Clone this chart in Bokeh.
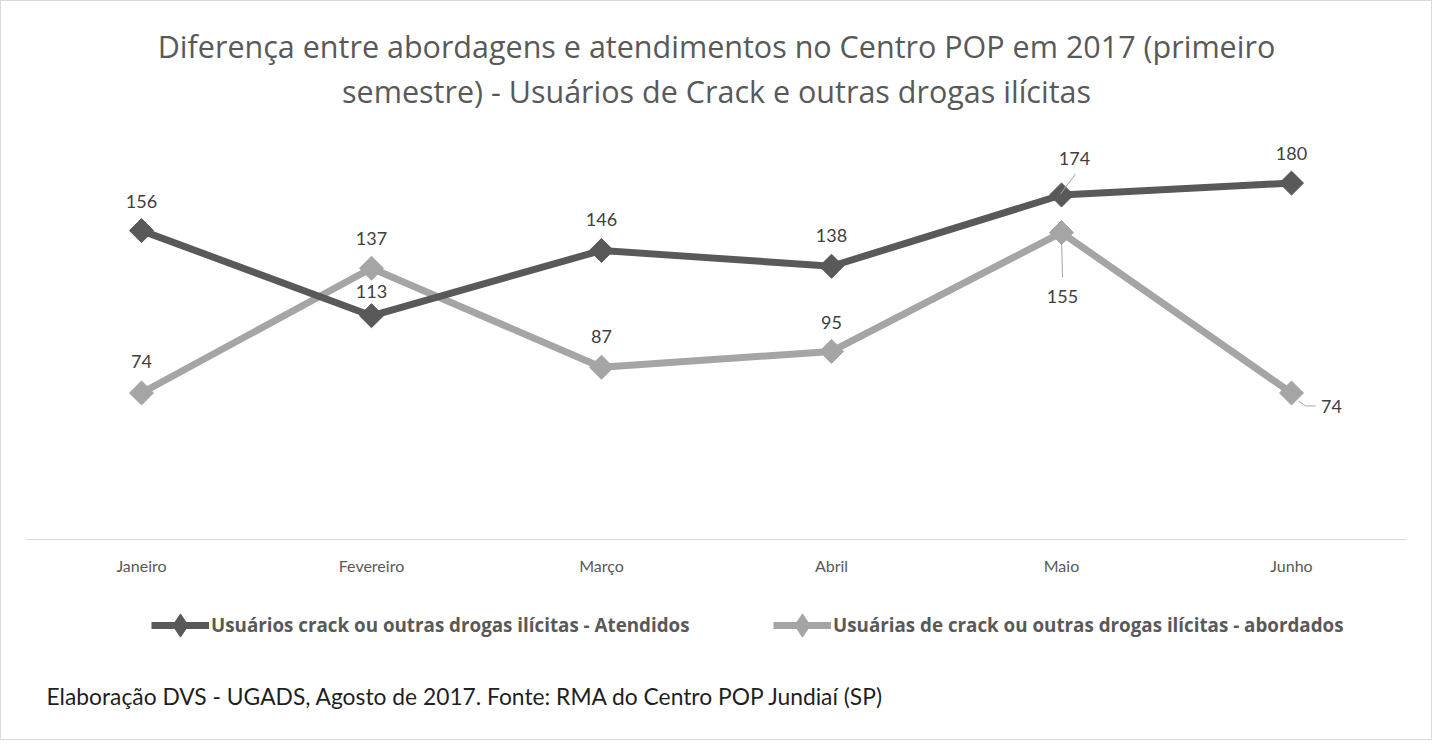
import numpy as np
from bokeh.plotting import figure
from bokeh.models import (ColumnDataSource, Legend, LegendItem, FixedTicker, Range1d, Label)
from bokeh.core.properties import value
from bokeh.embed import file_html
from bokeh.resources import INLINE

# ---- data ----
months = ["Janeiro", "Fevereiro", "Março", "Abril", "Maio", "Junho"]
atendidos = [156, 113, 146, 138, 174, 180]
abordados = [74, 137, 87, 95, 155, 74]
name_atendidos = "Usuários crack ou outras drogas ilícitas - Atendidos"
name_abordados = "Usuárias de crack ou outras drogas ilícitas - abordados"
title_lines = ["Diferença entre abordagens e atendimentos no Centro POP em 2017 (primeiro",
               "semestre) - Usuários de Crack e outras drogas ilícitas"]
footer = "Elaboração DVS - UGADS, Agosto de 2017. Fonte: RMA do Centro POP Jundiaí (SP)"

# ---- label placement (screen px offsets) ----
atd_dx = [0, 0, 0, 0, 13, 0]
atd_dy = [-29, -24, -31, -31, -36, -30]
abo_dx = [0, 0, 0, 0, 1, 40]
abo_dy = [-31, -30, -31, -29, 64, 14]

DARK = "#595959"
LIGHT = "#a5a5a5"
TXT = "#404040"

# ---- layout (pixels inside the 1432x740 canvas) ----
W, H = 1432, 740
PLOT_L, PLOT_R, PLOT_T, PLOT_B = 25, 1405, 142, 538   # plot area
YMAX = 200
n = len(months)
x = list(range(n))
PXX = (PLOT_R - PLOT_L) / n          # px per category
PXY = (PLOT_B - PLOT_T) / YMAX       # px per unit
X0 = -0.5 - PLOT_L / PXX
X1 = X0 + W / PXX
Y0 = -(H - PLOT_B) / PXY
Y1 = PLOT_B / PXY

def fx(px):   # canvas px -> data x
    return X0 + px / PXX
def fy(py):   # canvas px (from top) -> data y
    return (PLOT_B - py) / PXY

p = figure(width=W, height=H, output_backend="svg", toolbar_location=None,
           x_range=Range1d(X0, X1), y_range=Range1d(Y0, Y1),
           min_border=0, min_border_left=0, min_border_right=0,
           min_border_top=0, min_border_bottom=0,
           background_fill_color="white", border_fill_color="white",
           styles={"border": "1px solid #d9d9d9"})
p.outline_line_color = None
p.grid.visible = False
p.yaxis.visible = False
ax = p.xaxis[0]
ax.fixed_location = 0
ax.bounds = (-0.5, n - 0.5)
ax.ticker = FixedTicker(ticks=x)
ax.major_label_overrides = {i: m for i, m in enumerate(months)}
ax.axis_line_color = "#d9d9d9"
ax.axis_line_width = 1
ax.major_tick_line_color = None
ax.minor_tick_line_color = None
ax.major_tick_out = 0
ax.major_tick_in = 0
ax.major_label_standoff = 16
ax.major_label_text_font = "Lato"
ax.major_label_text_font_size = "16px"
ax.major_label_text_color = DARK

src_a = ColumnDataSource(dict(x=x, y=atendidos, t=[str(v) for v in atendidos], dx=atd_dx, dy=atd_dy))
src_b = ColumnDataSource(dict(x=x, y=abordados, t=[str(v) for v in abordados], dx=abo_dx, dy=abo_dy))

lb = p.line("x", "y", source=src_b, line_color=LIGHT, line_width=7, line_join="round")
mb = p.scatter("x", "y", source=src_b, marker="square", angle=np.pi / 4, size=17,
               fill_color=LIGHT, line_color=LIGHT)
la = p.line("x", "y", source=src_a, line_color=DARK, line_width=7, line_join="round")
ma = p.scatter("x", "y", source=src_a, marker="square", angle=np.pi / 4, size=17,
               fill_color=DARK, line_color=DARK)

# legend-only diamond glyphs (a single NaN point: nothing drawn in the plot itself)
da = p.scatter(x=[np.nan], y=[np.nan], marker="diamond", fill_color=DARK, line_color=DARK)
db = p.scatter(x=[np.nan], y=[np.nan], marker="diamond", fill_color=LIGHT, line_color=LIGHT)

# leader lines (px offsets from the point converted to data units)
def seg(i, vals, pts):
    xs = [x[i] + px / PXX for px, py in pts]
    ys = [vals[i] - py / PXY for px, py in pts]
    return xs, ys
l1 = seg(4, atendidos, [(-1, -1), (14, -21)])
l2 = seg(4, abordados, [(0, 4), (1, 45)])
l3 = seg(5, abordados, [(7, 8), (14, 13), (24, 13)])
p.multi_line([l1[0], l2[0], l3[0]], [l1[1], l2[1], l3[1]], line_color="#a6a6a6", line_width=1)

for s in (src_a, src_b):
    p.text("x", "y", text="t", source=s, x_offset="dx", y_offset="dy",
           text_align="center", text_baseline="middle", text_font=value("Lato"),
           text_font_size="18px", text_color=TXT)

# title
for line, cy in zip(title_lines, (44, 89)):
    p.add_layout(Label(x=fx(715), y=fy(cy), text=line, text_align="center",
                       text_baseline="middle", text_font="Open Sans", text_font_size="30.5px",
                       text_color=DARK))

# footer
p.add_layout(Label(x=fx(45), y=fy(694), text=footer, text_align="left",
                   text_baseline="middle", text_font="Lato", text_font_size="22.8px",
                   text_color="#1f1f1f"))

# legend
legend = Legend(items=[LegendItem(label=name_atendidos, renderers=[la, da]),
                       LegendItem(label=name_abordados, renderers=[lb, db])],
                location=(150, 86), orientation="horizontal", padding=0, margin=0, spacing=0,
                border_line_color=None, background_fill_alpha=0,
                glyph_width=58, glyph_height=60, label_height=60, label_width=562,
                label_standoff=2, label_text_font="Open Sans", label_text_font_style="bold",
                label_text_font_size="18.8px", label_text_color=DARK, label_text_baseline="middle")
p.add_layout(legend, "center")

open("out.html", "w").write(file_html(p, INLINE))
